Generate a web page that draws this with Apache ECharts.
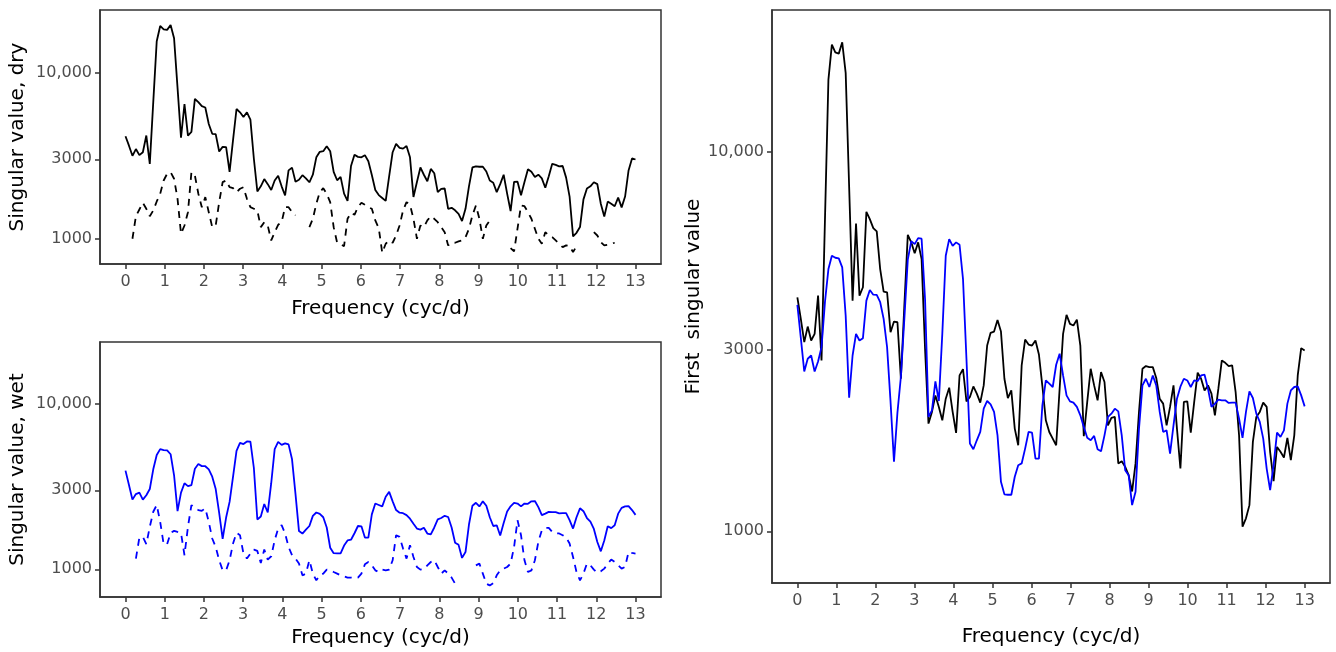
<!DOCTYPE html>
<html>
<head>
<meta charset="utf-8">
<title>Singular value spectra</title>
<script src="https://cdn.jsdelivr.net/npm/echarts@6/dist/echarts.min.js"></script>
<style>
  html, body { margin: 0; padding: 0; background: #ffffff; }
  #chart { width: 1336px; height: 652px; }
</style>
</head>
<body>
<div id="chart"></div>
<script>
// First singular value, dry season (solid black)
const DRY_SOLID = [
  4130, 3624, 3148, 3458, 3178, 3309, 4171, 2816, 6630, 15450,
  19090, 18220, 18080, 19360, 16090, 8090, 4047, 6460, 4171, 4388,
  6930, 6630, 6280, 6155, 4900, 4273, 4257, 3343, 3565, 3550,
  2521, 3926, 6030, 5760, 5390, 5760, 5206, 3022, 1921, 2062,
  2279, 2125, 1960, 2234, 2388, 2062, 1816, 2572, 2673, 2198,
  2257, 2406, 2303, 2181, 2421, 3083, 3329, 3355, 3601, 3355,
  2521, 2243, 2349, 1864, 1685, 2733, 3197, 3102, 3083, 3178,
  2920, 2412, 1960, 1826, 1754, 1685, 2373, 3309, 3711, 3516,
  3480, 3608, 3083, 1779, 2190, 2678, 2421, 2212, 2626, 2471,
  1901, 1988, 2000, 1509, 1529, 1478, 1405, 1273, 1509, 2062,
  2678, 2722, 2705, 2705, 2532, 2234, 2168, 1901, 2125, 2421,
  1864, 1463, 2190, 2198, 1819, 2190, 2615, 2521, 2349, 2421,
  2303, 2020, 2373, 2816, 2777, 2722, 2733, 2326, 1789, 1029,
  1082, 1172, 1720, 2000, 2062, 2181, 2125, 1619, 1355, 1668,
  1619, 1564, 1762, 1539, 1789, 2572, 3035, 2991
];

// Second singular value, dry season (dashed black)
const DRY_DASHED = [
  null, null, 996, 1362, 1495, 1641, 1510, 1362, 1475, 1671,
  1859, 2236, 2454, 2508, 2289, 1734, 1067, 1197, 1440, 2508,
  2396, 1859, 1544, 1774, 1440, 1170, 1197, 1654, 2184, 2236,
  2037, 2009, 1900, 1993, 2037, 1734, 1544, 1510, 1475, 1170,
  1254, 1197, 973, 1091, 1209, 1254, 1544, 1544, 1440, 1376,
  null, null, null, 1170, 1314, 1618, 1900, 2009, 1859, 1654,
  1170, 942, 924, 899, 1314, 1428, 1389, 1544, 1641, 1596,
  1544, 1510, 1284, 1153, 820, 929, 973, 942, 1042, 1197,
  1475, 1654, 1596, 1314, 996, 1197, 1170, 1284, 1362, 1314,
  1254, 1170, 1091, 908, 942, 942, 959, 973, 1018, 1144,
  1376, 1580, 1314, 996, 1197, 1284, null, null, null, null,
  null, 874, 835, 1150, 1580, 1565, 1440, 1314, 1144, 996,
  929, 1091, 1042, 1018, 973, 929, 886, 908, 899, 827,
  899, null, null, null, null, 1091, 1042, 950, 908, 916,
  929, 942, null, null, null, null, null, null
];

// First singular value, wet season (solid blue)
const WET_SOLID = [
  3943, 3230, 2634, 2846, 2902, 2634, 2799, 3053, 4015, 4900,
  5312, 5248, 5229, 4951, 3695, 2247, 2902, 3309, 3178, 3224,
  4047, 4317, 4196, 4191, 4008, 3624, 3053, 2194, 1526, 2053,
  2552, 3624, 5188, 5804, 5700, 5911, 5890, 4088, 2000, 2082,
  2480, 2203, 3309, 5312, 5875, 5642, 5760, 5677, 4613, 2846,
  1702, 1644, 1736, 1826, 2103, 2203, 2159, 2062, 1789, 1350,
  1251, 1248, 1248, 1392, 1493, 1509, 1651, 1826, 1819, 1554,
  1554, 2146, 2495, 2446, 2398, 2744, 2933, 2572, 2279, 2198,
  2181, 2125, 2020, 1883, 1762, 1736, 1783, 1644, 1624, 1789,
  2000, 2040, 2103, 2069, 1789, 1448, 1405, 1172, 1271, 1864,
  2421, 2521, 2398, 2572, 2421, 2062, 1826, 1844, 1602, 1901,
  2234, 2402, 2521, 2495, 2398, 2495, 2486, 2572, 2583, 2373,
  2125, 2168, 2221, 2212, 2212, 2177, 2181, 2181, 1980, 1762,
  2062, 2335, 2243, 2040, 1941, 1754, 1463, 1284, 1493, 1819,
  1773, 1844, 2168, 2349, 2398, 2406, 2279, 2132
];

// Second singular value, wet season (dashed blue)
const WET_DASHED = [
  null, null, null, 1161, 1556, 1569, 1418, 1804, 2225, 2443,
  1934, 1418, 1418, 1660, 1707, 1683, 1660, 1216, 1804, 2443,
  2333, 2279, 2256, 2333, 1934, 1535, 1365, 1134, 986, 986,
  1134, 1431, 1660, 1607, 1245, 1161, 1245, 1316, 1291, 1092,
  1316, 1145, 1199, 1498, 1765, 1848, 1646, 1365, 1216, 1161,
  1083, 920, 942, 1134, 942, 858, 920, 942, 996, 986,
  963, 942, 920, 907, 891, 891, 886, 891, 942, 1072,
  1107, 1057, 986, 963, 996, 986, 996, 1134, 1607, 1569,
  1335, 1161, 1398, 1187, 1033, 996, 1004, 1057, 1107, 1134,
  1033, 942, 986, 942, 891, 819, null, null, null, null,
  null, 1057, 1083, 942, 819, 800, 826, 920, 986, 1010,
  1033, 1083, 1365, 1980, 1607, 1134, 963, 986, 1134, 1464,
  1723, 1780, 1780, 1683, 1646, 1646, 1607, 1556, 1431, 1187,
  963, 858, 942, 1083, 1057, 996, 955, 973, 1010, 1083,
  1145, 1107, 1057, 1010, 1033, 1273, 1255, 1245
];

// Frequency grid: evenly spaced from 0 to 13 cyc/d, one entry per value
const FREQ_MAX = 13;
const FREQ = DRY_SOLID.map((_, i) => i * FREQ_MAX / (DRY_SOLID.length - 1));

const X_TICKS = [0, 1, 2, 3, 4, 5, 6, 7, 8, 9, 10, 11, 12, 13];
const Y_TICKS = [1000, 3000, 10000];
const Y_TICK_LABELS = ['1000', '3000', '10,000'];

const FONT = 'DejaVu Sans';
const INK = '#333333';
const BLUE = '#0000ff';

// y is drawn on a log10 scale
const Y_TICKS_LOG = Y_TICKS.map(v => Math.log10(v));
function yLabel(v) {
  const k = Y_TICKS_LOG.findIndex(t => Math.abs(t - v) < 1e-6);
  return k >= 0 ? Y_TICK_LABELS[k] : '';
}
function toSeriesData(values) {
  return values.map((v, i) => [FREQ[i], v == null ? '-' : Math.log10(v)]);
}

function xAxisFor(gridIndex, labelMargin, titleGap) {
  return {
    gridIndex: gridIndex,
    type: 'value',
    min: -0.65,
    max: 13.65,
    axisLine: { show: true, onZero: false, lineStyle: { color: INK, width: 1.5 } },
    splitLine: { show: false },
    axisTick: { show: true, length: 5, customValues: X_TICKS, lineStyle: { color: INK, width: 1.5 } },
    axisLabel: {
      customValues: X_TICKS, color: '#4d4d4d', fontSize: 16, fontFamily: FONT, margin: labelMargin,
      formatter: v => String(Math.round(v))
    },
    name: 'Frequency (cyc/d)',
    nameLocation: 'middle',
    nameGap: titleGap,
    nameTextStyle: { color: '#000000', fontSize: 20, fontFamily: FONT }
  };
}

function yAxisFor(gridIndex, min, max, title, gap) {
  return {
    gridIndex: gridIndex,
    type: 'value',
    min: min,
    max: max,
    axisLine: { show: true, onZero: false, lineStyle: { color: INK, width: 1.5 } },
    splitLine: { show: false },
    axisTick: { show: true, length: 5, customValues: Y_TICKS_LOG, lineStyle: { color: INK, width: 1.5 } },
    axisLabel: {
      customValues: Y_TICKS_LOG, color: '#4d4d4d', fontSize: 16, fontFamily: FONT, margin: 8,
      formatter: yLabel
    },
    name: title,
    nameLocation: 'middle',
    nameGap: gap,
    nameTextStyle: { color: '#000000', fontSize: 20, fontFamily: FONT }
  };
}

function lineSeries(axisIndex, values, color, dashed, z) {
  return {
    type: 'line',
    xAxisIndex: axisIndex,
    yAxisIndex: axisIndex,
    data: toSeriesData(values),
    showSymbol: false,
    symbol: 'none',
    connectNulls: false,
    silent: true,
    z: z,
    lineStyle: { color: color, width: 1.8, type: dashed ? [7, 6] : 'solid' }
  };
}

const gridStyle = { show: true, borderColor: INK, borderWidth: 1.5, backgroundColor: 'transparent', containLabel: false };

const chart = echarts.init(document.getElementById('chart'), null, { renderer: 'canvas' });
chart.setOption({
  animation: false,
  backgroundColor: '#ffffff',
  textStyle: { fontFamily: FONT },
  grid: [
    Object.assign({ left: 100, top: 10, width: 561, height: 254 }, gridStyle),
    Object.assign({ left: 100, top: 342, width: 561, height: 255 }, gridStyle),
    Object.assign({ left: 772, top: 10, width: 558, height: 575 }, gridStyle)
  ],
  xAxis: [xAxisFor(0, 10, 35), xAxisFor(1, 10, 31), xAxisFor(2, 10, 44)],
  yAxis: [
    yAxisFor(0, 2.846, 4.377, 'Singular value, dry', 72),
    yAxisFor(1, 2.833, 4.372, 'Singular value, wet', 72),
    yAxisFor(2, 2.864, 4.372, 'First  singular value', 67)
  ],
  series: [
    lineSeries(0, DRY_SOLID, '#000000', false, 3),
    lineSeries(0, DRY_DASHED, '#000000', true, 2),
    lineSeries(1, WET_SOLID, BLUE, false, 3),
    lineSeries(1, WET_DASHED, BLUE, true, 2),
    lineSeries(2, DRY_SOLID, '#000000', false, 2),
    lineSeries(2, WET_SOLID, BLUE, false, 3)
  ]
});
</script>
</body>
</html>
